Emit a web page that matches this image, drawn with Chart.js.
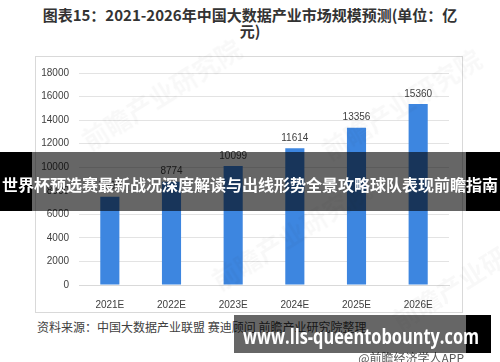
<!DOCTYPE html>
<html>
<head>
<meta charset="utf-8">
<script src="https://cdn.jsdelivr.net/npm/chart.js@4.4.1/dist/chart.umd.min.js"></script>
<style>
  html, body { margin: 0; padding: 0; background: #fff; }
  body { width: 500px; height: 362px; position: relative; overflow: hidden;
         font-family: "Noto Sans CJK SC", "Noto Sans", sans-serif; }
  .title { position: absolute; left: 40px; width: 420px; top: 7px; text-align: center;
           font-size: 15px; font-weight: bold; color: #333; line-height: 16px; }
  .box { position: absolute; left: 35px; top: 56px; width: 426px; height: 255px;
         border: 1px solid #d9d9d9; }
  .box canvas { position: absolute; left: 0; top: 0; }
  .src { position: absolute; left: 37px; top: 318px; font-size: 12px; color: #404040; white-space: nowrap; }
  .app { position: absolute; right: 36px; top: 349px; font-size: 12px; color: #595959; white-space: nowrap; }
  .mark { position: absolute; font-size: 26px; font-weight: bold; color: rgba(0,0,0,0.028);
          transform: rotate(-32deg); white-space: nowrap; }
  .band { position: absolute; left: 0; top: 152px; width: 500px; height: 59px; }
  .band .l, .band .r, .foot .r { position: absolute; top: 0; height: 100%; background: #000; }
  .band .l { left: 0; width: 32px; }
  .band .r { left: 466px; width: 34px; }
  .band .m { position: absolute; left: 32px; width: 434px; top: 0; height: 100%; background: rgba(0,0,0,0.6); }
  .band .t, .foot .t { position: absolute; color: #fff; font-weight: bold; white-space: nowrap;
                       transform-origin: 0 50%; }
  .band .t { left: 2px; top: 20px; font-size: 16px; line-height: 24px; }
  .foot { position: absolute; left: 234px; top: 315px; width: 257px; height: 38px; }
  .foot .m { position: absolute; left: 0; top: 0; width: 232px; height: 100%; background: rgba(0,0,0,0.6); }
  .foot .r { left: 232px; width: 25px; }
  .foot .t { left: 9px; top: 6px; font-size: 21px; line-height: 30px; font-family: "Open Sans", sans-serif; }
</style>
</head>
<body>
<div class="title">图表15：2021-2026年中国大数据产业市场规模预测(单位：亿<br>元)</div>
<div class="box"><canvas id="c" width="426" height="255"></canvas></div>
<div class="mark" style="left:70px;top:75px;">前瞻产业研究院</div>
<div class="mark" style="left:310px;top:85px;">前瞻产业研究院</div>
<div class="mark" style="left:200px;top:215px;">前瞻产业研究院</div>
<div class="mark" style="left:380px;top:255px;">前瞻产业研究院</div>
<div class="src">资料来源：中国大数据产业联盟 赛迪顾问 前瞻产业研究院整理</div>
<div class="app">@前瞻经济学人APP</div>
<div class="band"><div class="l"></div><div class="m"></div><div class="r"></div>
  <div class="t" id="bandText" data-w="496">世界杯预选赛最新战况深度解读与出线形势全景攻略球队表现前瞻指南</div></div>
<div class="foot"><div class="m"></div><div class="r"></div>
  <div class="t" id="footText" data-w="236">www.lls-queentobounty.com</div></div>
<script>
const YEARS = ['2021E', '2022E', '2023E', '2024E', '2025E', '2026E'];
const MARKET_SIZE = [7500, 8774, 10099, 11614, 13356, 15360];
const Y_MAX = 18000;
const Y_STEP = 2000;

const BAR_COLOR = '#3d86e0';

// value labels above the bars
const barLabels = {
  id: 'barLabels',
  afterDatasetsDraw(chart) {
    const ctx = chart.ctx;
    const meta = chart.getDatasetMeta(0);
    ctx.save();
    ctx.font = '10px "Liberation Sans", sans-serif';
    ctx.fillStyle = '#404040';
    ctx.textAlign = 'center';
    ctx.textBaseline = 'bottom';
    meta.data.forEach((bar, i) => {
      ctx.fillText(MARKET_SIZE[i], bar.x, bar.y - 5);
    });
    ctx.restore();
  }
};

new Chart(document.getElementById('c'), {
  type: 'bar',
  data: {
    labels: YEARS,
    datasets: [{
      data: MARKET_SIZE,
      backgroundColor: BAR_COLOR,
      borderWidth: 0,
      barPercentage: 0.31,
      categoryPercentage: 1
    }]
  },
  options: {
    responsive: false,
    animation: false,
    layout: { padding: { top: 12, right: 13, left: 0, bottom: 0 } },
    plugins: { legend: { display: false }, tooltip: { enabled: false } },
    scales: {
      x: {
        grid: { display: false },
        border: { display: true, color: '#d9d9d9' },
        ticks: { color: '#404040', font: { size: 10, family: '"Liberation Sans", sans-serif' }, padding: 6 },
        afterFit: s => { s.height = 27; }
      },
      y: {
        min: 0, max: Y_MAX,
        grid: { color: '#e3e3e3', drawTicks: false },
        border: { display: false },
        ticks: {
          stepSize: Y_STEP, color: '#404040', padding: 10,
          font: { size: 10, family: '"Liberation Sans", sans-serif' },
          callback: v => String(v)
        },
        afterFit: s => { s.width = 43; }
      }
    }
  },
  plugins: [barLabels]
});

// stretch overlay texts to their measured spans
document.querySelectorAll('[data-w]').forEach(el => {
  const w = el.getBoundingClientRect().width;
  el.style.transform = `scaleX(${(+el.dataset.w / w).toFixed(3)})`;
});
</script>
</body>
</html>
